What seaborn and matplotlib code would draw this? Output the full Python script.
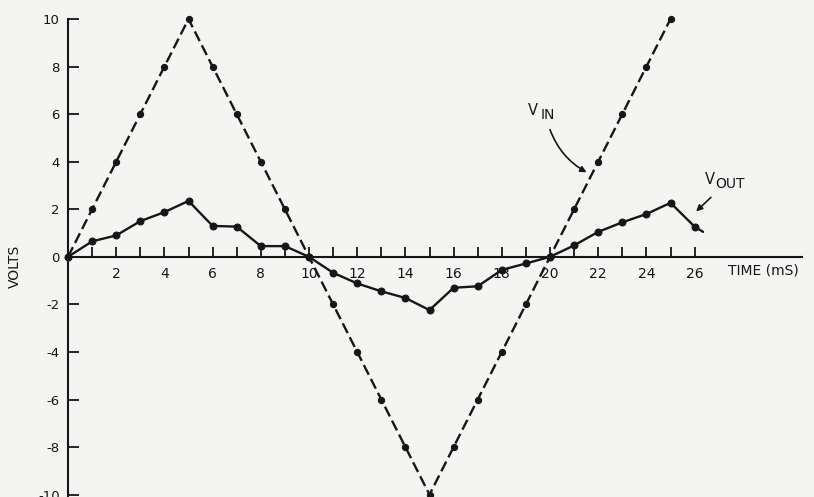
import matplotlib
matplotlib.use("Agg")
import matplotlib.pyplot as plt
import seaborn as sns
import pandas as pd

sns.set_theme(style="white")
plt.rcParams["font.family"] = ["DejaVu Sans"]
plt.rcParams["axes.unicode_minus"] = False

# input triangle wave, one reading per ms
time_in = list(range(0, 26))
v_in = [0, 2, 4, 6, 8, 10, 8, 6, 4, 2, 0, -2, -4, -6, -8, -10,
        -8, -6, -4, -2, 0, 2, 4, 6, 8, 10]

# output (last point is the tail of the curve)
time_out = list(range(0, 27)) + [26.35]
v_out = [0, 0.65, 0.9, 1.5, 1.88, 2.35, 1.3, 1.27, 0.45, 0.45, 0,
         -0.67, -1.12, -1.45, -1.73, -2.24, -1.3, -1.24, -0.55, -0.28, 0,
         0.48, 1.05, 1.45, 1.8, 2.27, 1.27, 1.05]

y_ticks = list(range(-10, 11, 2))
x_ticks = list(range(1, 27))
x_labels = [str(t) if t % 2 == 0 else "" for t in x_ticks]

ink = "#161616"
paper = "#f4f4f2"

df_in = pd.DataFrame({"t": time_in, "v": v_in})
df_out = pd.DataFrame({"t": time_out, "v": v_out})

fig = plt.figure(figsize=(8.14, 4.97), dpi=100, facecolor=paper)
ax = fig.add_axes([0, 0, 1, 1], facecolor=paper)

sns.lineplot(data=df_in, x="t", y="v", ax=ax, color=ink, lw=1.7,
             linestyle=(0, (4.6, 2.0)), marker="o", ms=4.5, mec=ink,
             sort=False, errorbar=None)
sns.lineplot(data=df_out, x="t", y="v", ax=ax, color=ink, lw=1.7,
             marker="o", ms=5, mec=ink, markevery=list(range(27)),
             sort=False, errorbar=None)

ax.set_xlim(-68 / 24.1, 746 / 24.1)
ax.set_ylim(-10.1, 10.8)

for side in ["top", "right"]:
    ax.spines[side].set_visible(False)
ax.spines["left"].set_position(("data", 0))
ax.spines["bottom"].set_position(("data", 0))
ax.spines["left"].set_bounds(-10.1, 10)
ax.spines["bottom"].set_bounds(0, 30.45)
for side in ["left", "bottom"]:
    ax.spines[side].set_color(ink)
    ax.spines[side].set_linewidth(1.5)

ax.set_yticks(y_ticks)
ax.set_xticks(x_ticks)
ax.set_xticklabels(x_labels)
ax.tick_params(axis="y", direction="in", length=8, width=1.3, color=ink,
               labelsize=9.5, labelcolor=ink, pad=6, left=True)
ax.tick_params(axis="x", direction="in", length=7, width=1.3, color=ink,
               labelsize=10, labelcolor=ink, pad=7, bottom=True)
ax.set_xlabel("")
ax.set_ylabel("")

ax.text(27.4, -0.56, "TIME (mS)", fontsize=10, color=ink,
        ha="left", va="center")
ax.text(-2.2, -0.4, "VOLTS", fontsize=10, color=ink, rotation=90,
        ha="center", va="center")

# V_IN label and arrow
ax.text(19.09, 6.14, "V", fontsize=10.5, color=ink, ha="left", va="center")
ax.text(19.62, 5.95, "IN", fontsize=10, color=ink, ha="left", va="center")
ax.annotate("", xy=(21.62, 3.5), xytext=(19.96, 5.46),
            arrowprops=dict(arrowstyle="-|>", color=ink, lw=1.2,
                            mutation_scale=9,
                            connectionstyle="arc3,rad=0.2"))

# V_OUT label and arrow
ax.text(26.43, 3.25, "V", fontsize=10.5, color=ink, ha="left", va="center")
ax.text(26.85, 3.06, "OUT", fontsize=10, color=ink, ha="left", va="center")
ax.annotate("", xy=(25.98, 1.83), xytext=(26.76, 2.58),
            arrowprops=dict(arrowstyle="-|>", color=ink, lw=1.2,
                            mutation_scale=9))

fig.savefig("out.png", dpi=100, facecolor=paper)
